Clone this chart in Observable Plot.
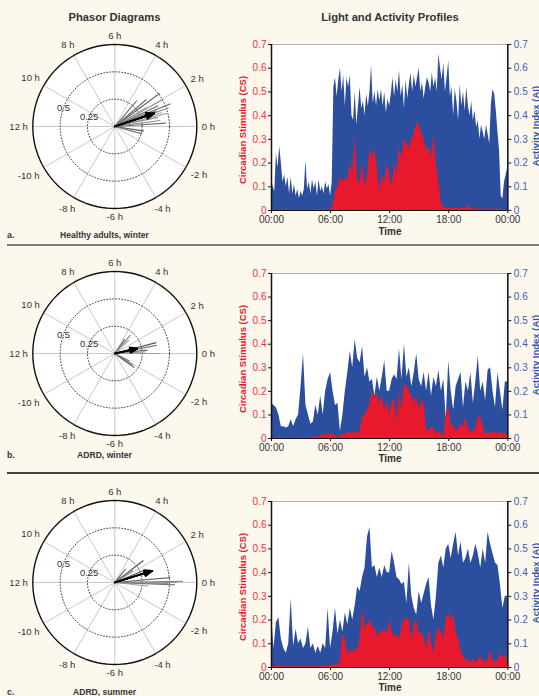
<!DOCTYPE html>
<html><head><meta charset="utf-8">
<script src="https://cdn.jsdelivr.net/npm/d3@7"></script>
<script src="https://cdn.jsdelivr.net/npm/@observablehq/plot@0.6"></script>
<style>
body{margin:0;background:#fdf8ee;}
#root{position:relative;width:539px;height:696px;overflow:hidden;background:#fdf8ee;font-family:"Liberation Sans",Arial,sans-serif;}
.t{position:absolute;white-space:nowrap;line-height:1;}
svg.p{position:absolute;}
.sep{position:absolute;left:7px;right:0;height:2px;}
</style></head><body><div id="root"></div>
<script>
// ---------- DATA ----------
const titles = ["Phasor Diagrams", "Light and Activity Profiles"];
const panelLetters = ["a.", "b.", "c."];
const panelNames = ["Healthy adults, winter", "ADRD, winter", "ADRD, summer"];
const hourTicks = [0, 6, 12, 18, 24];
const yTicks = [0, 0.1, 0.2, 0.3, 0.4, 0.5, 0.6, 0.7];
const phasorHours = [0, 2, 4, 6, 8, 10, 12, -10, -8, -6, -4, -2];
const phasorRadii = [0.25, 0.5];
const outerRadius = 0.75;

// Activity index (AI), panel a, 10-min samples 00:00..24:00
const aiA = [
0.13,0.10,0.08,0.24,0.18,0.27, 0.20,0.12,0.15,0.10,0.14,0.07,
0.14,0.07,0.11,0.06,0.09,0.05, 0.08,0.06,0.09,0.21,0.09,0.12,
0.07,0.13,0.09,0.12,0.06,0.13, 0.08,0.10,0.07,0.12,0.09,0.11,
0.06,0.12,0.52,0.56,0.48,0.55, 0.60,0.50,0.57,0.44,0.56,0.52,
0.57,0.40,0.38,0.50,0.36,0.44, 0.52,0.43,0.46,0.40,0.49,0.44,
0.50,0.61,0.45,0.50,0.44,0.51, 0.46,0.51,0.44,0.50,0.41,0.47,
0.44,0.49,0.56,0.48,0.55,0.50, 0.59,0.48,0.53,0.43,0.55,0.47,
0.53,0.58,0.50,0.57,0.52,0.56, 0.60,0.50,0.54,0.47,0.52,0.56,
0.54,0.50,0.58,0.52,0.56,0.50, 0.66,0.60,0.55,0.62,0.50,0.56,
0.63,0.48,0.52,0.40,0.51,0.46, 0.38,0.53,0.44,0.50,0.42,0.52,
0.44,0.40,0.46,0.38,0.42,0.35, 0.38,0.30,0.36,0.33,0.30,0.36,
0.32,0.28,0.45,0.51,0.49,0.42, 0.33,0.25,0.06,0.05,0.12,0.15,
0.18];
// Circadian stimulus (CS), panel a, 15-min samples
const csA = [
0.003,0.003,0.003,0.003, 0.003,0.003,0.003,0.003, 0.003,0.003,0.003,0.003,
0.003,0.003,0.003,0.003, 0.003,0.003,0.003,0.003, 0.003,0.003,0.003,0.003,
0.003,0.02,0.08,0.10, 0.14,0.12,0.14,0.12, 0.20,0.16,0.31,0.12,
0.12,0.20,0.10,0.15, 0.26,0.22,0.26,0.18, 0.08,0.15,0.12,0.20,
0.15,0.10,0.20,0.15, 0.27,0.22,0.30,0.28, 0.26,0.30,0.32,0.37,
0.36,0.33,0.30,0.25, 0.27,0.22,0.32,0.20, 0.12,0.03,0.012,0.01,
0.01,0.01,0.008,0.01, 0.008,0.01,0.008,0.008, 0.02,0.008,0.006,0.006,
0.006,0.006,0.005,0.006, 0.005,0.006,0.005,0.005, 0.005,0.004,0.004,0.003,
0.003];
// panel b, 15-min samples
const aiB = [
0.15,0.14,0.13,0.10, 0.05,0.05,0.045,0.05, 0.08,0.05,0.08,0.10,
0.22,0.36,0.14,0.10, 0.06,0.07,0.14,0.10, 0.18,0.10,0.20,0.25,
0.28,0.20,0.14,0.15, 0.03,0.10,0.20,0.28, 0.37,0.30,0.42,0.34,
0.32,0.39,0.26,0.30, 0.24,0.25,0.18,0.26, 0.20,0.26,0.33,0.20,
0.20,0.25,0.27,0.25, 0.38,0.25,0.40,0.26, 0.30,0.22,0.28,0.36,
0.25,0.22,0.28,0.20, 0.28,0.18,0.26,0.22, 0.29,0.20,0.25,0.08,
0.33,0.20,0.12,0.22, 0.25,0.28,0.13,0.24, 0.20,0.28,0.15,0.24,
0.35,0.20,0.24,0.16, 0.29,0.30,0.20,0.13, 0.28,0.20,0.12,0.24,
0.24];
const csB = [
0.005,0.004,0.004,0.004, 0.003,0.003,0.003,0.003, 0.003,0.003,0.003,0.003,
0.004,0.003,0.005,0.004, 0.004,0.006,0.005,0.01, 0.006,0.02,0.01,0.02,
0.015,0.02,0.008,0.005, 0.01,0.02,0.015,0.025, 0.02,0.03,0.02,0.025,
0.03,0.09,0.10,0.12, 0.15,0.20,0.17,0.19, 0.15,0.18,0.12,0.16,
0.10,0.15,0.17,0.07, 0.20,0.12,0.23,0.22, 0.20,0.18,0.15,0.18,
0.12,0.16,0.15,0.04, 0.03,0.05,0.04,0.02, 0.03,0.02,0.01,0.10,
0.14,0.05,0.06,0.03, 0.04,0.06,0.05,0.09, 0.04,0.03,0.03,0.04,
0.09,0.09,0.05,0.02, 0.02,0.025,0.02,0.03, 0.02,0.025,0.02,0.02,
0.01];
// panel c, 15-min samples
const aiC = [
0.23,0.08,0.19,0.21, 0.12,0.08,0.06,0.10, 0.29,0.09,0.16,0.10,
0.12,0.08,0.10,0.17, 0.08,0.10,0.06,0.09, 0.06,0.10,0.08,0.25,
0.08,0.15,0.25,0.14, 0.20,0.15,0.23,0.18, 0.25,0.20,0.26,0.34,
0.32,0.38,0.42,0.55, 0.59,0.42,0.43,0.38, 0.42,0.38,0.43,0.40,
0.40,0.49,0.44,0.38, 0.37,0.35,0.36,0.27, 0.44,0.30,0.25,0.22,
0.32,0.27,0.31,0.35, 0.38,0.26,0.20,0.30, 0.44,0.47,0.42,0.50,
0.52,0.46,0.52,0.57, 0.47,0.53,0.44,0.46, 0.50,0.44,0.47,0.52,
0.48,0.42,0.50,0.44, 0.57,0.52,0.48,0.44, 0.43,0.35,0.25,0.30,
0.30];
const csC = [
0.003,0.004,0.003,0.01, 0.004,0.003,0.003,0.003, 0.003,0.003,0.003,0.003,
0.003,0.003,0.003,0.003, 0.003,0.003,0.003,0.003, 0.003,0.004,0.005,0.006,
0.007,0.01,0.012,0.01, 0.03,0.14,0.12,0.05, 0.08,0.06,0.08,0.07,
0.12,0.25,0.17,0.18, 0.20,0.17,0.17,0.13, 0.15,0.15,0.16,0.14,
0.20,0.15,0.13,0.14, 0.12,0.17,0.20,0.21, 0.20,0.12,0.18,0.20,
0.14,0.15,0.12,0.08, 0.16,0.10,0.06,0.14, 0.17,0.15,0.12,0.21,
0.23,0.20,0.22,0.15, 0.12,0.07,0.05,0.03, 0.03,0.02,0.04,0.02,
0.03,0.05,0.02,0.03, 0.03,0.07,0.03,0.02, 0.03,0.06,0.04,0.05,
0.03];

// Phasor vectors: [magnitude, phase in hours]
const phasorsA = [[0.51,2.43],[0.31,3.3],[0.50,1.96],[0.55,1.48],[0.52,1.27],[0.49,0.95],[0.47,0.25],[0.41,1.38],[0.27,-0.61],[0.26,-1.0],[0.34,2.06],[0.44,1.7],[0.40,0.8],[0.45,1.1],[0.38,2.7],[0.42,0.5]];
const meanA = [0.38, 1.23];
const phasorsB = [[0.39,0.98],[0.39,0.74],[0.42,0.0],[0.30,0.4],[0.22,3.3],[0.18,2.9],[0.16,3.7],[0.20,-2.1],[0.22,-2.4],[0.15,-1.8],[0.28,0.2]];
const meanB = [0.21, 0.84];
const phasorsC = [[0.33,2.5],[0.625,0.07],[0.57,0.0],[0.51,0.34],[0.49,-0.07],[0.31,-0.41],[0.16,3.4],[0.20,2.2],[0.28,1.5],[0.55,-0.15]];
const meanC = [0.36, 1.16];

// ---------- LAYOUT / STYLE ----------
const FONT = '"Liberation Sans", Arial, sans-serif';
const RED = "#e8192c", BLUE = "#2c4e9f", RED_TXT = "#e8333f", BLUE_TXT = "#3c5cb3";
const grays = ["#555","#777","#999","#666","#888","#aaa","#6e6e6e","#8c8c8c"];
const rows = [
  {cy:126, ft:44, fb:210, labY:235, timeY:232, ai:aiA, cs:csA, ph:phasorsA, mean:meanA},
  {cy:353.3, ft:273, fb:438, labY:455, timeY:459, ai:aiB, cs:csB, ph:phasorsB, mean:meanB},
  {cy:582.3, ft:501, fb:667, labY:692, timeY:688, ai:aiC, cs:csC, ph:phasorsC, mean:meanC},
];
const root = document.getElementById("root");

function txt(s, x, y, o = {}) {
  const d = document.createElement("div");
  d.className = "t";
  d.textContent = s;
  d.style.left = x + "px"; d.style.top = y + "px";
  d.style.fontSize = (o.size || 10) + "px";
  d.style.fontWeight = o.bold ? "bold" : "normal";
  d.style.color = o.color || "#333";
  const tx = o.anchor === "start" ? "0" : "-50%";
  d.style.transform = `translate(${tx},-50%)` + (o.rot ? ` rotate(${o.rot}deg)` : "");
  root.appendChild(d);
}
function sep(y, c) {
  const d = document.createElement("div");
  d.className = "sep"; d.style.top = (y - 1) + "px"; d.style.background = c;
  root.appendChild(d);
}
function place(svg, left, top) {
  svg.classList.add("p");
  svg.style.left = left + "px"; svg.style.top = top + "px";
  root.appendChild(svg);
}

const series = vals => vals.map((v, i) => ({t: i * 24 / (vals.length - 1), v}));
const rad = h => h * 15 * Math.PI / 180;
const circle = r => d3.range(0, 361, 3).map(a => ({x: r * Math.cos(a * Math.PI / 180), y: r * Math.sin(a * Math.PI / 180)}));
const yFmt = d => d === 0 ? "0" : d.toFixed(1);
const hFmt = h => String(h % 24).padStart(2, "0") + ":00";

txt(titles[0], 114.5, 18, {size: 11.2, bold: true});
txt(titles[1], 390, 18, {size: 11.2, bold: true});
sep(244.5, "#7a7a7a");
sep(472.7, "#444");

rows.forEach((row, i) => {
  // ---- phasor diagram ----
  const R = 82;
  const spokes = d3.range(0, 12, 2).map(h => ({h}));
  const labelData = phasorHours.map(h => {
    const a = rad(h), s = `${h} h`;
    const w = s.length * 5.1, hh = 9.5;
    const px = R + 4 + 0.5 * (w * Math.abs(Math.cos(a)) + hh * Math.abs(Math.sin(a)));
    const r = px / R * outerRadius;
    return {s, x: r * Math.cos(a), y: r * Math.sin(a)};
  });
  const radLab = phasorRadii.map(r => ({s: String(r), x: r * Math.cos(rad(10.65)), y: r * Math.sin(rad(10.65))}));
  const vecs = row.ph.map((p, k) => ({m: p[0], h: p[1], k}));
  const mean = [{m: row.mean[0], h: row.mean[1]}];
  const arrowOpts = a => ({x1: () => 0, y1: () => 0, x2: d => d.m * Math.cos(rad(d.h)), y2: d => d.m * Math.sin(rad(d.h)),
    stroke: "#000", strokeWidth: 1.6, headLength: 8, headAngle: a});
  const ph = Plot.plot({
    width: 220, height: 220, marginLeft: 32.3, marginRight: 23.7, marginTop: 28, marginBottom: 28,
    x: {domain: [-outerRadius, outerRadius], axis: null},
    y: {domain: [-outerRadius, outerRadius], axis: null},
    style: {background: "transparent", overflow: "visible", fontFamily: FONT},
    marks: [
      Plot.line(circle(outerRadius), {x: "x", y: "y", fill: "white", stroke: "none"}),
      Plot.link(spokes, {x1: d => -outerRadius * Math.cos(rad(d.h)), y1: d => -outerRadius * Math.sin(rad(d.h)),
        x2: d => outerRadius * Math.cos(rad(d.h)), y2: d => outerRadius * Math.sin(rad(d.h)), stroke: "#c8c8c8", strokeWidth: 1}),
      ...phasorRadii.map(r => Plot.line(circle(r), {x: "x", y: "y", stroke: "#444", strokeWidth: 1, strokeDasharray: "1,2"})),
      Plot.line(circle(outerRadius), {x: "x", y: "y", stroke: "#111", strokeWidth: 1.4}),
      Plot.link(vecs, {x1: () => 0, y1: () => 0, x2: d => d.m * Math.cos(rad(d.h)), y2: d => d.m * Math.sin(rad(d.h)),
        stroke: d => grays[d.k % grays.length], strokeWidth: 1.2}),
      ...[14, 24, 34, 44].map(a => Plot.arrow(mean, arrowOpts(a))),
      Plot.text(labelData, {x: "x", y: "y", text: "s", fontSize: 9.5, fill: "#333"}),
      Plot.text(radLab, {x: "x", y: "y", text: "s", fontSize: 9.5, fill: "#333"})
    ]
  });
  place(ph, 0, row.cy - 110);
  txt(panelLetters[i], 7, row.labY, {size: 8.8, bold: true, anchor: "start"});
  txt(panelNames[i], 104.5, row.labY, {size: 8.6, bold: true});

  // ---- profile chart ----
  const mt = 20, mb = 20;
  const h = (row.fb - row.ft) + mt + mb;
  const pr = Plot.plot({
    width: 319, height: h, marginLeft: 51, marginRight: 31.7, marginTop: mt, marginBottom: mb,
    style: {background: "transparent", overflow: "visible", fontFamily: FONT, fontSize: "10px"},
    x: {domain: [0, 24]},
    y: {domain: [0, 0.7]},
    marks: [
      Plot.frame({fill: "white", stroke: "#b0b0b0"}),
      Plot.areaY(series(row.ai), {x: "t", y: "v", fill: BLUE}),
      Plot.areaY(series(row.cs), {x: "t", y: "v", fill: RED}),
      Plot.ruleX([0, 24], {stroke: "#111", strokeWidth: 1.5}),
      Plot.ruleY([0], {stroke: "#111", strokeWidth: 1}),
      Plot.axisY({anchor: "left", ticks: yTicks, tickFormat: yFmt, tickSize: 3, tickPadding: 2, fill: RED_TXT, stroke: "#111", label: null}),
      Plot.axisY({anchor: "right", ticks: yTicks, tickFormat: yFmt, tickSize: 3, tickPadding: 3, fill: BLUE_TXT, stroke: "#111", label: null}),
      Plot.axisX({ticks: hourTicks, tickFormat: hFmt, tickSize: 3, tickPadding: 2.5, fill: "#333", stroke: "#111", label: null})
    ]
  });
  place(pr, 220, row.ft - mt);
  const midY = (row.ft + row.fb) / 2;
  txt("Circadian Stimulus (CS)", 242.5, midY + 3, {size: 9.5, bold: true, color: RED, rot: -90});
  txt("Activity Index (AI)", 536, midY - 1, {size: 9.5, bold: true, color: "#3355aa", rot: -90});
  txt("Time", 390, row.timeY, {size: 10, bold: true});
});
</script></body></html>
